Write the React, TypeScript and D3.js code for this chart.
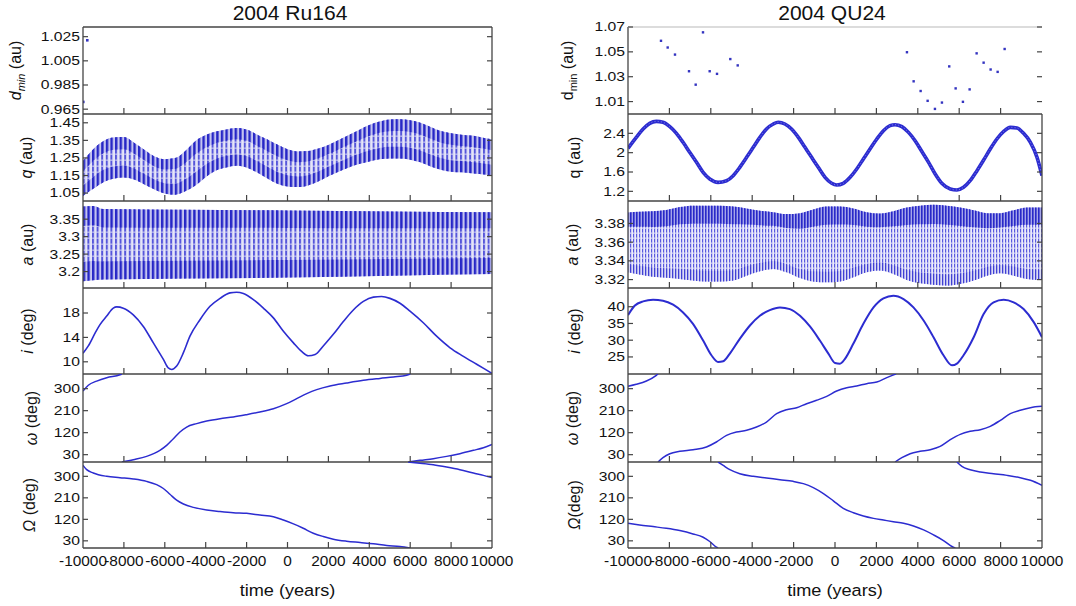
import React from 'react';
import * as d3 from 'd3';

type Pt = [number, number];

// ---------- shared axis data ----------
const timeTicks = [-10000, -8000, -6000, -4000, -2000, 0, 2000, 4000, 6000, 8000, 10000];

// ---------- 2004 Ru164 (left) ----------
const dminLeft: Pt[] = [[-9985, 0.971], [-9790, 1.022]];

const qLeftT = [-10000, -9500, -9000, -8500, -8000, -7500, -7000, -6500, -6000, -5500, -5000, -4500, -4000, -3500, -3000, -2500, -2000, -1500, -1000, -500, 0, 500, 1000, 1500, 2000, 2500, 3000, 3500, 4000, 4500, 5000, 5500, 6000, 6500, 7000, 7500, 8000, 8500, 9000, 9500, 10000];
const qLeftUpper = [1.234, 1.300, 1.347, 1.367, 1.369, 1.337, 1.296, 1.258, 1.243, 1.249, 1.290, 1.347, 1.380, 1.400, 1.412, 1.420, 1.412, 1.384, 1.356, 1.326, 1.300, 1.287, 1.289, 1.304, 1.324, 1.352, 1.380, 1.409, 1.437, 1.457, 1.469, 1.470, 1.465, 1.450, 1.426, 1.403, 1.390, 1.382, 1.377, 1.367, 1.356];
const qLeftLower = [1.033, 1.074, 1.112, 1.131, 1.138, 1.127, 1.099, 1.071, 1.048, 1.041, 1.060, 1.093, 1.140, 1.178, 1.196, 1.206, 1.196, 1.168, 1.134, 1.103, 1.088, 1.084, 1.093, 1.116, 1.146, 1.172, 1.196, 1.215, 1.230, 1.243, 1.247, 1.247, 1.240, 1.225, 1.202, 1.183, 1.172, 1.168, 1.163, 1.157, 1.150];

const aLeftT = [-10000, -9500, -9000, -5000, 0, 5000, 10000];
const aLeftUpper = [3.386, 3.388, 3.379, 3.377, 3.375, 3.372, 3.370];
const aLeftLower = [3.172, 3.175, 3.177, 3.180, 3.183, 3.188, 3.193];

const iLeft: Pt[] = [[-10000, 11.4], [-9740, 12.6], [-9410, 14.7], [-9170, 16.1], [-8840, 17.5], [-8520, 18.8], [-8350, 19.0], [-8030, 18.8], [-7540, 17.7], [-7050, 15.8], [-6560, 13.1], [-6070, 10.4], [-5830, 9.0], [-5660, 8.75], [-5420, 9.3], [-5090, 11.5], [-4770, 14.2], [-4280, 16.9], [-3790, 19.1], [-3300, 20.4], [-2810, 21.3], [-2490, 21.4], [-2160, 21.2], [-1670, 20.2], [-1180, 18.8], [-690, 17.2], [-200, 15.0], [290, 13.1], [690, 11.7], [1020, 11.0], [1350, 11.2], [1750, 12.6], [2240, 14.5], [2730, 16.6], [3220, 18.5], [3710, 19.9], [4200, 20.6], [4600, 20.7], [5010, 20.4], [5500, 19.6], [5990, 18.3], [6640, 16.4], [7290, 14.2], [7950, 12.3], [8600, 10.9], [9250, 9.6], [10000, 8.1]];

const omegaLeft1: Pt[] = [[-10000, 290], [-9740, 314], [-9330, 331], [-8840, 345], [-8190, 357], [-8100, 360]];
const omegaLeft2: Pt[] = [[-8100, 0], [-7540, 9.5], [-6890, 23], [-6240, 47.7], [-5910, 68], [-5580, 95.5], [-5260, 122.7], [-4930, 143], [-4440, 157], [-3950, 167.7], [-3300, 177.3], [-2650, 184], [-2000, 193.6], [-1350, 204.5], [-690, 218], [-40, 238.6], [450, 259], [940, 279.5], [1430, 296], [2080, 311], [2890, 323], [3710, 334], [4520, 342], [5180, 348], [5830, 355], [6000, 360]];
const omegaLeft3: Pt[] = [[5900, 0], [6480, 6.8], [7130, 13.6], [7780, 23], [8430, 34], [9090, 47.7], [9580, 58.6], [10000, 72]];

const nodeLeft1: Pt[] = [[-10000, 346], [-9820, 328], [-9500, 314], [-8840, 300], [-8190, 294.5], [-7540, 289], [-6890, 279], [-6400, 265], [-6070, 249], [-5750, 225], [-5420, 200], [-5090, 184], [-4600, 170], [-3950, 159], [-3300, 153], [-2650, 148], [-2000, 145], [-1350, 138], [-690, 131], [-200, 117], [290, 101], [770, 82.5], [1260, 62], [1750, 48], [2240, 37], [2890, 28.5], [3550, 23], [4200, 17.5], [4850, 10.5], [5500, 6.4], [6000, 0]];
const nodeLeft2: Pt[] = [[5900, 360], [6480, 355], [7130, 348.5], [7780, 339], [8430, 328], [9090, 314], [9580, 304], [10000, 294.5]];

// ---------- 2004 QU24 (right) ----------
const dminRight: Pt[] = [[-8406, 1.0589], [-8083, 1.0535], [-7730, 1.0478], [-7053, 1.0344], [-6730, 1.0236], [-6377, 1.0657], [-6054, 1.0344], [-5700, 1.0323], [-5058, 1.0442], [-4700, 1.0391], [3476, 1.0497], [3799, 1.0263], [4137, 1.0185], [4475, 1.0106], [4828, 1.0041], [5166, 1.0092], [5519, 1.0383], [5828, 1.0206], [6180, 1.0098], [6504, 1.0198], [6842, 1.0488], [7180, 1.0413], [7518, 1.0358], [7857, 1.0339], [8195, 1.0523]];

const qRight: Pt[] = [[-10000, 2.09], [-9600, 2.317], [-9270, 2.49], [-8950, 2.607], [-8630, 2.648], [-8310, 2.628], [-7980, 2.538], [-7660, 2.40], [-7340, 2.214], [-7020, 2.007], [-6690, 1.80], [-6370, 1.593], [-6050, 1.455], [-5650, 1.386], [-5240, 1.42], [-4920, 1.524], [-4600, 1.697], [-4270, 1.903], [-3950, 2.11], [-3630, 2.317], [-3310, 2.49], [-2980, 2.593], [-2740, 2.628], [-2420, 2.593], [-2100, 2.49], [-1770, 2.317], [-1450, 2.11], [-1130, 1.903], [-810, 1.697], [-480, 1.49], [-160, 1.366], [80, 1.331], [400, 1.366], [730, 1.49], [1050, 1.662], [1370, 1.869], [1690, 2.076], [2020, 2.283], [2340, 2.455], [2660, 2.559], [2900, 2.579], [3230, 2.538], [3550, 2.42], [3870, 2.248], [4190, 2.028], [4520, 1.80], [4840, 1.559], [5160, 1.366], [5570, 1.248], [5890, 1.228], [6210, 1.283], [6530, 1.42], [6860, 1.628], [7180, 1.848], [7500, 2.076], [7820, 2.283], [8150, 2.441], [8470, 2.524], [8790, 2.51], [9110, 2.40], [9440, 2.214], [9760, 1.903], [10000, 1.524]];

const aRightT = [-10000, -9435, -8790, -8145, -7500, -6855, -6209, -5564, -4919, -4274, -3629, -2984, -2338, -1693, -1048, -403, 243, 888, 1533, 2178, 2823, 3469, 4114, 4759, 5404, 6049, 6695, 7340, 7985, 8630, 9275, 10000];
const aRightUpper = [3.3917, 3.3925, 3.393, 3.3945, 3.3975, 3.399, 3.399, 3.399, 3.398, 3.396, 3.3935, 3.392, 3.390, 3.391, 3.395, 3.398, 3.398, 3.396, 3.392, 3.3907, 3.393, 3.397, 3.399, 3.400, 3.399, 3.397, 3.394, 3.391, 3.391, 3.394, 3.397, 3.397];
const aRightLower = [3.3278, 3.3253, 3.323, 3.322, 3.3207, 3.319, 3.318, 3.318, 3.319, 3.3242, 3.3289, 3.3313, 3.3278, 3.3217, 3.318, 3.3171, 3.318, 3.3225, 3.3278, 3.3296, 3.326, 3.3196, 3.316, 3.3146, 3.3136, 3.3153, 3.3189, 3.3242, 3.3267, 3.3242, 3.3207, 3.3196];

const iRight: Pt[] = [[-10000, 37.5], [-9680, 40.3], [-9270, 41.6], [-8790, 42.07], [-8310, 41.8], [-7820, 40.6], [-7340, 38.3], [-6860, 34.9], [-6370, 29.9], [-5970, 25.5], [-5650, 23.5], [-5400, 23.7], [-5080, 26.0], [-4600, 30.4], [-4110, 34.4], [-3630, 37.3], [-3150, 39.0], [-2660, 39.8], [-2180, 39.3], [-1690, 37.3], [-1210, 34.1], [-730, 29.9], [-320, 26.0], [0, 23.2], [240, 23.0], [490, 24.5], [890, 29.0], [1370, 34.9], [1860, 39.8], [2340, 42.5], [2820, 43.3], [3310, 42.3], [3790, 39.8], [4280, 35.9], [4760, 30.9], [5240, 25.5], [5650, 22.5], [5890, 23.0], [6210, 25.5], [6700, 30.9], [7180, 37.8], [7660, 41.3], [8150, 42.07], [8630, 41.3], [9110, 39.3], [9600, 35.4], [10000, 30.9]];

const omegaRight1: Pt[] = [[-10000, 309.5], [-9600, 317.7], [-9110, 331.4], [-8630, 354.5], [-8550, 360]];
const omegaRight2: Pt[] = [[-8550, 0], [-8310, 17.7], [-7980, 34], [-7500, 43.6], [-6860, 50.5], [-6210, 61.4], [-5730, 81.8], [-5240, 109], [-4760, 122.7], [-4270, 129.5], [-3790, 143], [-3310, 163.6], [-2820, 197.7], [-2340, 214], [-1850, 222.3], [-1370, 238.6], [-890, 252.3], [-400, 268.6], [80, 290.5], [570, 304], [1050, 311], [1530, 320.5], [2020, 327.3], [2500, 345], [2900, 358.6], [2950, 360]];
const omegaRight3: Pt[] = [[2900, 0], [3230, 17.7], [3630, 34], [4110, 43.6], [4600, 50.5], [5080, 64], [5570, 91.4], [6050, 113.2], [6530, 125.5], [7020, 132.3], [7500, 146], [7990, 170.5], [8470, 197.7], [8950, 211.4], [9440, 222.3], [10000, 227.7]];

const nodeRight1: Pt[] = [[-10000, 103.3], [-9440, 96.4], [-8790, 89.5], [-8150, 82.6], [-7500, 73], [-6860, 59], [-6370, 45], [-6050, 27.2], [-5730, 3.6], [-5650, 0]];
const nodeRight2: Pt[] = [[-5650, 360], [-5400, 345.7], [-5080, 327.7], [-4600, 311], [-3950, 300], [-3310, 293], [-2660, 286], [-2020, 279], [-1530, 269.5], [-1050, 253], [-560, 228], [-80, 197.5], [400, 165.7], [890, 147.7], [1370, 133.8], [1860, 124], [2340, 117], [2820, 110], [3310, 103.3], [3790, 92.3], [4280, 75.6], [4760, 54.8], [5240, 31.3], [5650, 6.4], [5810, 0]];
const nodeRight3: Pt[] = [[5890, 360], [6130, 341.5], [6530, 327.7], [7020, 318], [7660, 311], [8310, 304], [8950, 294.5], [9440, 283.4], [10000, 262.6]];

// ---------- tick values ----------
const dminLeftTicks = [0.965, 0.985, 1.005, 1.025];
const qLeftTicks = [1.05, 1.15, 1.25, 1.35, 1.45];
const aLeftTicks = [3.2, 3.25, 3.3, 3.35];
const iLeftTicks = [10, 14, 18];
const angleTicks = [30, 120, 210, 300];
const dminRightTicks = [1.01, 1.03, 1.05, 1.07];
const qRightTicks = [1.2, 1.6, 2, 2.4];
const aRightTicks = [3.32, 3.34, 3.36, 3.38];
const iRightTicks = [25, 30, 35, 40];

// ---------- layout ----------
const FONT = '"Liberation Sans", Arial, Helvetica, sans-serif';
const BLUE = '#2c2cd0';
const EDGES = [27, 114, 201, 288, 374, 462, 548];

type PanelCfg = {
  domain: [number, number];
  ticks: number[];
  fmt: (v: number) => string;
  label: React.ReactNode;
  draw: (x: d3.ScaleLinear<number, number>, y: d3.ScaleLinear<number, number>) => React.ReactNode;
};

const lineGen = (x: any, y: any) =>
  d3.line<Pt>().x(d => x(d[0])).y(d => y(d[1])).curve(d3.curveMonotoneX);

function Lines({ segs, x, y, w = 1.5 }: { segs: Pt[][]; x: any; y: any; w?: number }) {
  return (
    <g>
      {segs.map((s, i) => (
        <path key={i} d={lineGen(x, y)(s) || ''} fill="none" stroke={BLUE} strokeWidth={w} strokeLinejoin="round" />
      ))}
    </g>
  );
}

function Band({ T, U, L, x, y, light, darkTop, darkBot, edgeTop, edgeBot }: any) {
  const mk = (lo: (i: number) => number, hi: (i: number) => number) =>
    d3.area<number>().x((_, i) => x(T[i])).y0((_, i) => y(lo(i))).y1((_, i) => y(hi(i))).curve(d3.curveMonotoneX)(T) || '';
  return (
    <g>
      <path d={mk(i => L[i], i => U[i])} fill={`url(#${light})`} />
      <path d={mk(i => U[i] - edgeTop * (U[i] - L[i]), i => U[i])} fill={`url(#${darkTop})`} />
      <path d={mk(i => L[i], i => L[i] + edgeBot * (U[i] - L[i]))} fill={`url(#${darkBot})`} />
    </g>
  );
}

function Dots({ pts, x, y, s = 2.6 }: { pts: Pt[]; x: any; y: any; s?: number }) {
  return (
    <g>
      {pts.map((p, i) => (
        <rect key={i} x={x(p[0]) - s / 2} y={y(p[1]) - s / 2} width={s} height={s} fill="#3434c0" />
      ))}
    </g>
  );
}

function STxt({ x, y, size, sx = 1, anchor = 'middle', children }: any) {
  return (
    <text transform={`translate(${x},${y}) scale(${sx},1)`} fontSize={size} textAnchor={anchor} fontFamily={FONT} fill="#111">
      {children}
    </text>
  );
}

function YLabel({ x, y, children }: any) {
  return (
    <text transform={`translate(${x},${y}) rotate(-90)`} fontSize={16} textAnchor="middle" fontFamily={FONT} fill="#111">
      {children}
    </text>
  );
}

const f2 = d3.format('.2f');
const f3 = d3.format('.3f');
const fs = (v: number) => String(v);

const it = (s: string) => <tspan fontStyle="italic">{s}</tspan>;

const leftPanels: PanelCfg[] = [
  {
    domain: [0.961, 1.033], ticks: dminLeftTicks, fmt: f3,
    label: <>{it('d')}<tspan fontStyle="italic" fontSize={11} dy={4}>min</tspan><tspan dy={-4}> (au)</tspan></>,
    draw: (x, y) => <Dots pts={dminLeft} x={x} y={y} />,
  },
  {
    domain: [1.005, 1.5], ticks: qLeftTicks, fmt: f2,
    label: <>{it('q')}<tspan> (au)</tspan></>,
    draw: (x, y) => <Band T={qLeftT} U={qLeftUpper} L={qLeftLower} x={x} y={y} light="colsLight" darkTop="colsDark" darkBot="colsDark" edgeTop={0.3} edgeBot={0.3} />,
  },
  {
    domain: [3.153, 3.402], ticks: aLeftTicks, fmt: fs,
    label: <>{it('a')}<tspan> (au)</tspan></>,
    draw: (x, y) => <Band T={aLeftT} U={aLeftUpper} L={aLeftLower} x={x} y={y} light="colsLight" darkTop="colsDark" darkBot="colsDark" edgeTop={0.26} edgeBot={0.26} />,
  },
  {
    domain: [8, 22.1], ticks: iLeftTicks, fmt: fs,
    label: <>{it('i')}<tspan> (deg)</tspan></>,
    draw: (x, y) => <Lines segs={[iLeft]} x={x} y={y} w={1.6} />,
  },
  {
    domain: [0, 360], ticks: angleTicks, fmt: fs,
    label: <>{it('ω')}<tspan> (deg)</tspan></>,
    draw: (x, y) => <Lines segs={[omegaLeft1, omegaLeft2, omegaLeft3]} x={x} y={y} />,
  },
  {
    domain: [0, 360], ticks: angleTicks, fmt: fs,
    label: <>{it('Ω')}<tspan> (deg)</tspan></>,
    draw: (x, y) => <Lines segs={[nodeLeft1, nodeLeft2]} x={x} y={y} />,
  },
];

const rightPanels: PanelCfg[] = [
  {
    domain: [1.0, 1.07], ticks: dminRightTicks, fmt: f2,
    label: <><tspan>d</tspan><tspan fontSize={11} dy={4}>min</tspan><tspan dy={-4}> (au)</tspan></>,
    draw: (x, y) => <Dots pts={dminRight} x={x} y={y} s={2.4} />,
  },
  {
    domain: [1.0, 2.8], ticks: qRightTicks, fmt: fs,
    label: <tspan>q (au)</tspan>,
    draw: (x, y) => (
      <g>
        <Lines segs={[qRight]} x={x} y={y} w={3.6} />
        <path d={lineGen(x, y)(qRight) || ''} fill="none" stroke="#8080ea" strokeWidth={1} strokeDasharray="1 2.2" />
      </g>
    ),
  },
  {
    domain: [3.311, 3.404], ticks: aRightTicks, fmt: f2,
    label: <>{it('a')}<tspan> (au)</tspan></>,
    draw: (x, y) => <Band T={aRightT} U={aRightUpper} L={aRightLower} x={x} y={y} light="colsRLight" darkTop="colsRDark" darkBot="colsRMid" edgeTop={0.24} edgeBot={0.14} />,
  },
  {
    domain: [19.9, 45.6], ticks: iRightTicks, fmt: fs,
    label: <>{it('i')}<tspan> (deg)</tspan></>,
    draw: (x, y) => <Lines segs={[iRight]} x={x} y={y} w={2} />,
  },
  {
    domain: [0, 360], ticks: angleTicks, fmt: fs,
    label: <>{it('ω')}<tspan> (deg)</tspan></>,
    draw: (x, y) => <Lines segs={[omegaRight1, omegaRight2, omegaRight3]} x={x} y={y} />,
  },
  {
    domain: [0, 360], ticks: angleTicks, fmt: fs,
    label: <>{it('Ω')}<tspan>(deg)</tspan></>,
    draw: (x, y) => <Lines segs={[nodeRight1, nodeRight2, nodeRight3]} x={x} y={y} />,
  },
];

type Side = { id: string; x0: number; x1: number; title: string; titleX: number; panels: PanelCfg[]; labelX: number[]; right: boolean };

const sides: Side[] = [
  { id: 'L', x0: 83, x1: 492, title: '2004 Ru164', titleX: 290, panels: leftPanels, labelX: [21, 32, 33, 33, 37, 35], right: false },
  { id: 'R', x0: 628, x1: 1042, title: '2004 QU24', titleX: 832, panels: rightPanels, labelX: [573, 580, 578, 580, 578, 580], right: true },
];

function Chart({ s }: { s: Side }) {
  const x = d3.scaleLinear().domain([-10000, 10000]).range([s.x0, s.x1]);
  return (
    <g>
      <STxt x={s.titleX} y={20} size={19.5} sx={1.08}>{s.title}</STxt>
      {s.panels.map((p, i) => {
        const top = EDGES[i];
        const bot = EDGES[i + 1];
        const y = d3.scaleLinear().domain(p.domain).range([bot, top]);
        const cid = `clip-${s.id}-${i}`;
        const first = i === 0;
        return (
          <g key={i}>
            <clipPath id={cid}>
              <rect x={s.x0} y={top} width={s.x1 - s.x0} height={bot - top} />
            </clipPath>
            <g clipPath={`url(#${cid})`}>{p.draw(x, y)}</g>
            <line x1={s.x0} x2={s.x0} y1={top} y2={bot} stroke="#444" strokeWidth={1.3} />
            <line x1={s.x0} x2={s.x1} y1={bot} y2={bot} stroke="#444" strokeWidth={1.3} />
            {first && (
              <line x1={s.x0} x2={s.x1} y1={top} y2={top} stroke={s.right ? '#d0d0d0' : '#444'} strokeWidth={1.3} />
            )}
            {!(first && s.right) && <line x1={s.x1} x2={s.x1} y1={top} y2={bot} stroke="#444" strokeWidth={1.3} />}
            {timeTicks.slice(1, -1).map(t => (
              <line key={t} x1={x(t)} x2={x(t)} y1={bot} y2={bot - 6} stroke="#444" strokeWidth={1.2} />
            ))}
            {p.ticks.map(v => (
              <g key={v}>
                <line x1={s.x0} x2={s.x0 + 5} y1={y(v)} y2={y(v)} stroke="#444" strokeWidth={1.2} />
                <line x1={s.x1 - 5} x2={s.x1} y1={y(v)} y2={y(v)} stroke="#444" strokeWidth={1.2} />
                <STxt x={s.x0 - 3} y={y(v) + 4.4} size={13.3} sx={1.18} anchor="end">{p.fmt(v)}</STxt>
              </g>
            ))}
            <YLabel x={s.labelX[i]} y={(top + bot) / 2}>{p.label}</YLabel>
          </g>
        );
      })}
      {timeTicks.map(t => (
        <STxt key={t} x={x(t)} y={566} size={14} sx={1.1}>{String(t)}</STxt>
      ))}
      <STxt x={(s.x0 + s.x1) / 2} y={596} size={16.5} sx={1.1}>time (years)</STxt>
    </g>
  );
}

export default function App() {
  return (
    <svg width={1076} height={606} style={{ position: 'absolute', left: 0, top: 0, background: '#fff' }}>
      <defs>
        <pattern id="colsLight" width={4.6} height={6} patternUnits="userSpaceOnUse">
          <rect x={0} y={0} width={4.6} height={6} fill="#e6e6f8" />
          <rect x={0} y={0} width={2} height={6} fill="#5656da" />
          <rect x={0.4} y={3.5} width={1.2} height={1.4} fill="#ffffff" opacity={0.8} />
        </pattern>
        <pattern id="colsDark" width={4.6} height={6} patternUnits="userSpaceOnUse">
          <rect x={0} y={0} width={4.6} height={6} fill="#c4c4f0" />
          <rect x={0} y={0} width={2.4} height={6} fill="#2626c6" />
        </pattern>
        <pattern id="colsRLight" width={3} height={5} patternUnits="userSpaceOnUse">
          <rect x={0} y={0} width={3} height={5} fill="#ececfb" />
          <rect x={0} y={0} width={1.2} height={5} fill="#5a5ade" />
          <rect x={0} y={2.5} width={1.2} height={1.3} fill="#ffffff" opacity={0.7} />
        </pattern>
        <pattern id="colsRDark" width={3} height={5} patternUnits="userSpaceOnUse">
          <rect x={0} y={0} width={3} height={5} fill="#a4a4ea" />
          <rect x={0} y={0} width={1.6} height={5} fill="#2828c8" />
        </pattern>
        <pattern id="colsRMid" width={3} height={5} patternUnits="userSpaceOnUse">
          <rect x={0} y={0} width={3} height={5} fill="#dcdcf6" />
          <rect x={0} y={0} width={1.3} height={5} fill="#4040d4" />
        </pattern>
      </defs>
      {sides.map(s => (
        <Chart key={s.id} s={s} />
      ))}
    </svg>
  );
}
